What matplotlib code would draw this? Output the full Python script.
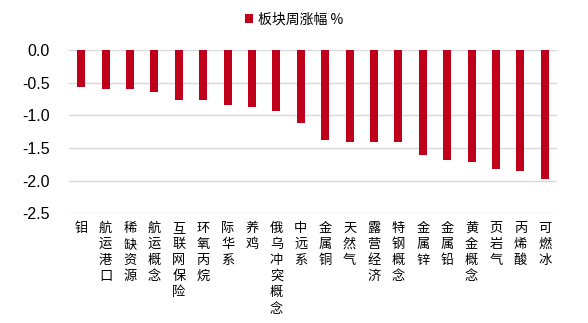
import matplotlib
matplotlib.use("Agg")
import matplotlib.pyplot as plt
from matplotlib.patches import Patch

categories = ["钼", "航运港口", "稀缺资源", "航运概念", "互联网保险", "环氧丙烷", "际华系",
              "养鸡", "俄乌冲突概念", "中远系", "金属铜", "天然气", "露营经济", "特钢概念",
              "金属锌", "金属铅", "黄金概念", "页岩气", "丙烯酸", "可燃冰"]
values = [-0.56, -0.59, -0.60, -0.65, -0.76, -0.77, -0.84, -0.88, -0.94, -1.12,
          -1.38, -1.41, -1.41, -1.41, -1.60, -1.69, -1.71, -1.82, -1.85, -1.98]
yticks = [0.0, -0.5, -1.0, -1.5, -2.0, -2.5]
legend_label = "板块周涨幅 %"

bar_color = "#C0001A"
cjk = ["Noto Sans CJK SC", "DejaVu Sans"]

fig = plt.figure(figsize=(5.88, 3.23), dpi=100)
ax = fig.add_axes([69/588, 1-213.3/323, (557-69)/588, (213.3-50)/323])

x = list(range(len(categories)))
ax.bar(x, values, width=0.33, color=bar_color, zorder=3)

ax.set_ylim(-2.5, 0)
ax.set_xlim(-0.5, len(categories)-0.5)
ax.set_yticks(yticks)
ax.set_yticklabels([f"{v:.1f}" for v in yticks], family="Liberation Sans", fontsize=11.5)
ax.yaxis.grid(True, color="#D9D9D9", linewidth=1, zorder=0)
ax.set_axisbelow(True)
for s in ax.spines.values():
    s.set_visible(False)
ax.tick_params(axis="y", length=0, pad=14)
ax.tick_params(axis="x", length=0, pad=6)
ax.set_xticks(x)
ax.set_xticklabels(["\n".join(c) for c in categories], family=cjk, fontsize=9.5,
                   linespacing=1.32, va="top")

handle = Patch(facecolor=bar_color, edgecolor="none")
fig.legend([handle], [legend_label], loc="center", bbox_to_anchor=(0.5, 0.94),
           frameon=False, prop={"family": cjk, "size": 10}, handlelength=0.6,
           handleheight=0.6, handletextpad=0.35)

fig.savefig("out.png", dpi=100)
